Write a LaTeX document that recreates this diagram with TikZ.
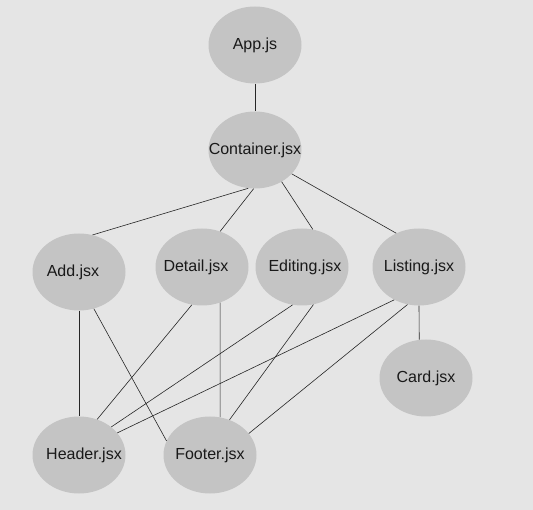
\documentclass[tikz,border=0pt]{standalone}
\usepackage{fontspec}
\setmainfont{Liberation Sans}
\usepackage{tikz}
\usepackage{xcolor}
\usetikzlibrary{shapes.geometric}
\definecolor{bggray}{RGB}{229,229,229}
\definecolor{compgray}{RGB}{196,196,196}
\definecolor{textgray}{RGB}{25,25,25}
% text box of no width, so the ellipse keeps its size; optional shift
\newcommand{\fname}[2][0pt]{\makebox[0pt]{\hspace{#1}#2}}

\begin{document}
\begin{tikzpicture}[x=1pt,y=-1pt,
    comp/.style={ellipse, fill=compgray, text=textgray, inner sep=0pt, minimum width=93pt, minimum height=77pt, font=\fontsize{16}{18}\selectfont},
    link/.style={black!85, line width=0.6pt}]
                % Background
                \fill[bggray] (0,0) rectangle (533,510);
                \useasboundingbox (0,0) rectangle (533,510);

                % Components
                \node[comp] (app) at (255,45) {\fname{App.js}};
                \node[comp] (container) at (255,150) {\fname{Container.jsx}};
                \node[comp] (add) at (79,272) {\fname[-12pt]{Add.jsx}};
                \node[comp] (detail) at (202,267) {\fname[-12pt]{Detail.jsx}};
                \node[comp] (editing) at (302,267) {\fname[6pt]{Editing.jsx}};
                \node[comp] (listing) at (419,267) {\fname{Listing.jsx}};
                \node[comp] (card) at (426,378) {\fname{Card.jsx}};
                \node[comp] (header) at (79,455) {\fname[10pt]{Header.jsx}};
                \node[comp] (footer) at (210,455) {\fname{Footer.jsx}};

                % Container tree
                \draw[link] (app) -- (container);
                \draw[link] (container.260) -- (add.70);
                \draw[link] (container.268) -- (detail.63);
                \draw[link] (container.310) -- (editing.74);
                \draw[link] (container.327) -- (listing.124);
                \draw[link] (listing.270) -- (card.100);

                % Header and footer
                \draw[link] (add.270) -- (header.90);
                \draw[link] (add.292) -- (footer.162);
                \draw[link] (detail.255) -- (header.63);
                \draw[link] (detail.297) -- (footer.75);
                \draw[link] (editing.256) -- (header.41);
                \draw[link] (editing.287) -- (footer.61);
                \draw[link] (listing.233) -- (header.30);
                \draw[link] (listing.253) -- (footer.29);
\end{tikzpicture}
\end{document}
